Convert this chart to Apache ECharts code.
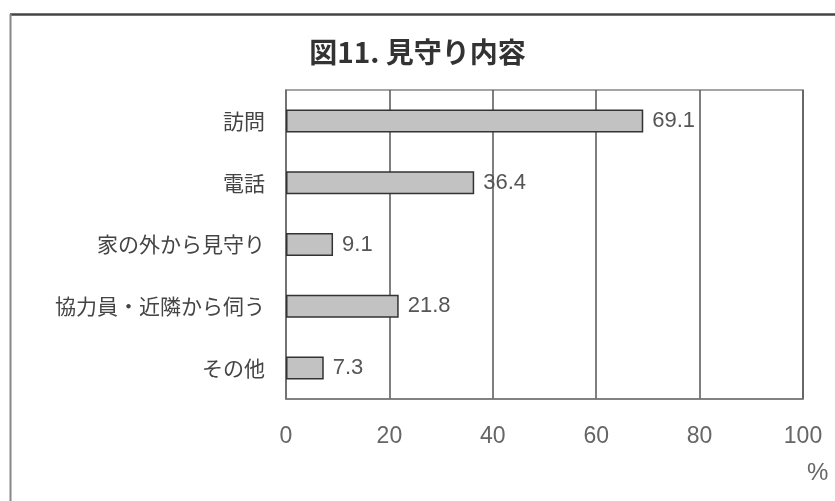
<!DOCTYPE html>
<html>
<head>
<meta charset="utf-8">
<script src="https://cdn.jsdelivr.net/npm/echarts@6/dist/echarts.min.js"></script>
<style>
  html, body { margin: 0; padding: 0; background: #fff; }
  #chart { width: 835px; height: 501px; }
</style>
</head>
<body>
<div id="chart"></div>
<script>
// 見守り内容（複数回答, %）
const categories = ['訪問', '電話', '家の外から見守り', '協力員・近隣から伺う', 'その他'];
const values = [69.1, 36.4, 9.1, 21.8, 7.3];
const xTicks = [0, 20, 40, 60, 80, 100];

const FONT = '"Noto Sans CJK JP", "Noto Sans", sans-serif';
const NUM_FONT = '"Liberation Sans", Arial, sans-serif';

const chart = echarts.init(document.getElementById('chart'), null, { renderer: 'canvas' });

chart.setOption({
  backgroundColor: '#ffffff',
  animation: false,
  title: {
    text: '図11. 見守り内容',
    left: 'center',
    top: 33,
    textStyle: { fontFamily: FONT, fontSize: 28, fontWeight: 'bold', color: '#333' }
  },
  grid: {
    left: 286, right: 32, top: 90, bottom: 102,
    show: true, borderColor: '#888', borderWidth: 1.5
  },
  xAxis: {
    type: 'value',
    min: xTicks[0],
    max: xTicks[xTicks.length - 1],
    interval: 20,
    axisLine: { show: true, lineStyle: { color: '#777', width: 1.5 } },
    axisTick: { show: false },
    splitLine: { show: true, lineStyle: { color: '#555', width: 1.5 } },
    axisLabel: { fontFamily: NUM_FONT, fontSize: 23, color: '#666', margin: 26 }
  },
  yAxis: {
    type: 'category',
    data: categories,
    inverse: true,
    axisLine: { show: true, lineStyle: { color: '#777', width: 1.5 } },
    axisTick: { show: false },
    axisLabel: { fontFamily: FONT, fontSize: 21, color: '#444', margin: 21 }
  },
  series: [{
    type: 'bar',
    data: values,
    barWidth: 23,
    itemStyle: { color: '#c2c2c2', borderColor: '#333', borderWidth: 1.5 },
    label: {
      show: true,
      position: 'right',
      distance: 9,
      fontFamily: NUM_FONT,
      fontSize: 22,
      color: '#555',
      formatter: p => p.value.toFixed(1)
    }
  }],
  graphic: [
    // outer frame (top and left edges)
    { type: 'line', shape: { x1: 10, y1: 14.5, x2: 835, y2: 14.5 }, style: { stroke: '#444', lineWidth: 2.5 } },
    { type: 'line', shape: { x1: 10.5, y1: 14, x2: 10.5, y2: 501 }, style: { stroke: '#888', lineWidth: 2 } },
    // unit
    { type: 'text', left: 807, top: 461, style: { text: '%', fontFamily: NUM_FONT, fontSize: 24, fill: '#666' } }
  ]
});
</script>
</body>
</html>
